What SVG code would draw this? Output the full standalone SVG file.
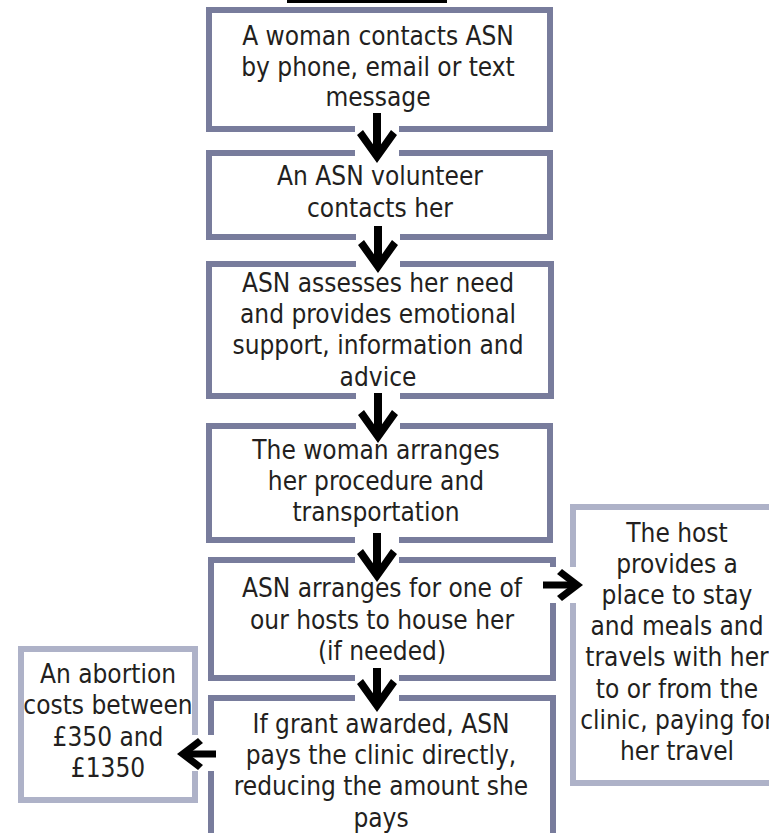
<svg xmlns="http://www.w3.org/2000/svg" width="769" height="833" viewBox="0 0 769 833">
<style>
.box{fill:#ffffff;stroke:#787c9c;stroke-width:6}
.side{fill:#ffffff;stroke:#aeb2c8;stroke-width:6}
.bg{fill:#ffffff}
.ink{fill:#000000}
text{font-family:"DejaVu Sans Condensed","DejaVu Sans",sans-serif;font-stretch:condensed;font-size:26px;fill:#231f20;text-anchor:middle}
</style>
<defs>
<path id="headDown" d="M-20,-28 L0,0 L20,-28 L14,-33 L0,-13 L-14,-33 Z"/>
<path id="headRight" d="M-21,-16 L0,0 L-21,16 L-26,11 L-11.6,0 L-26,-11 Z"/>
</defs>
<rect x="0" y="0" width="769" height="833" fill="#ffffff"/>
<rect x="287" y="0" width="160" height="3" fill="#000000"/>
<g id="n1"><rect class="box" x="209" y="10" width="341" height="119"/></g>
<g id="n2"><rect class="box" x="209" y="153" width="341" height="84"/></g>
<g id="n3"><rect class="box" x="209" y="264" width="342" height="132"/></g>
<g id="n4"><rect class="box" x="209" y="426" width="341" height="114"/></g>
<g id="n5"><rect class="box" x="211" y="560" width="342" height="118"/></g>
<g id="n6"><rect class="box" x="211" y="698" width="342" height="200"/></g>
<g id="n7"><rect class="side" x="573" y="507" width="208" height="276"/></g>
<g id="n8"><rect class="side" x="21" y="649" width="174" height="151"/></g>
<g id="connector-bg">
<rect class="bg" x="355" y="113" width="44" height="50"/>
<rect class="bg" x="356" y="226" width="44" height="47"/>
<rect class="bg" x="356" y="393" width="44" height="50"/>
<rect class="bg" x="355" y="533" width="44" height="49"/>
<rect class="bg" x="355" y="668" width="44" height="44"/>
<rect class="bg" x="541" y="567" width="44" height="36"/>
<rect class="bg" x="175" y="735" width="43" height="36"/>
</g>
<g id="labels">
<text x="378" y="45">A woman contacts ASN</text>
<text x="378" y="76">by phone, email or text</text>
<text x="378" y="106">message</text>
<text x="380" y="185">An ASN volunteer</text>
<text x="380" y="217">contacts her</text>
<text x="378" y="292">ASN assesses her need</text>
<text x="378" y="323">and provides emotional</text>
<text x="378" y="354">support, information and</text>
<text x="378" y="386">advice</text>
<text x="376" y="459">The woman arranges</text>
<text x="376" y="490">her procedure and</text>
<text x="376" y="521">transportation</text>
<text x="382" y="597">ASN arranges for one of</text>
<text x="382" y="629">our hosts to house her</text>
<text x="382" y="660">(if needed)</text>
<text x="381" y="733">If grant awarded, ASN</text>
<text x="381" y="764">pays the clinic directly,</text>
<text x="381" y="795">reducing the amount she</text>
<text x="381" y="827">pays</text>
<text x="677" y="542">The host</text>
<text x="677" y="573">provides a</text>
<text x="677" y="604">place to stay</text>
<text x="677" y="635">and meals and</text>
<text x="677" y="666">travels with her</text>
<text x="677" y="698">to or from the</text>
<text x="677" y="729">clinic, paying for</text>
<text x="677" y="760">her travel</text>
<text x="108" y="683">An abortion</text>
<text x="108" y="714">costs between</text>
<text x="108" y="746">£350 and</text>
<text x="108" y="777">£1350</text>
</g>
<g id="connectors">
<g transform="translate(377,163)"><rect class="ink" x="-4" y="-50" width="8" height="39"/><use href="#headDown" class="ink"/></g>
<g transform="translate(378,273)"><rect class="ink" x="-4" y="-47" width="8" height="36"/><use href="#headDown" class="ink"/></g>
<g transform="translate(378,443)"><rect class="ink" x="-4" y="-50" width="8" height="39"/><use href="#headDown" class="ink"/></g>
<g transform="translate(377,582)"><rect class="ink" x="-4" y="-49" width="8" height="38"/><use href="#headDown" class="ink"/></g>
<g transform="translate(377,712)"><rect class="ink" x="-4" y="-44" width="8" height="33"/><use href="#headDown" class="ink"/></g>
<g transform="translate(583,585)"><rect class="ink" x="-40" y="-3.5" width="30" height="7"/><use href="#headRight" class="ink"/></g>
<g transform="translate(177,754) scale(-1,1)"><rect class="ink" x="-39" y="-3.5" width="29" height="7"/><use href="#headRight" class="ink"/></g>
</g>
</svg>
